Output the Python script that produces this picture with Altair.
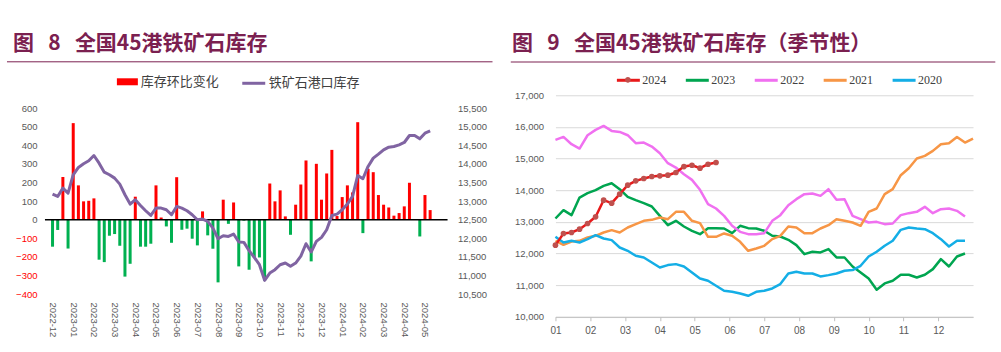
import altair as alt
import pandas as pd
import numpy as np

# ---------------- left panel data (weekly) ----------------
bar_changes = [
    -145, -55, 230, -155, 520, 185, 99, 102, 115, -215,
    -228, -86, -77, -140, -306, -237, 124, -145, -145, -129,
    185, 12, -36, -124, 229, -54, -48, -102, -138, 45,
    -84, -156, -337, 108, -22, 93, -251, -5, -269, -203,
    -203, -328, 195, 99, 158, 18, -81, 81, 190, 319,
    -224, 301, 108, 249, 376, 20, 122, 185, 147, 525,
    -72, 274, 256, 133, 81, 66, 22, 36, 72, 199,
    0, -90, 133, 52,
]
port_inventory = [
    13190, 13127, 13351, 13217, 13710, 13907, 14005, 14086, 14229, 14023,
    13781, 13710, 13620, 13459, 13172, 12921, 13038, 12885, 12742, 12616,
    12814, 12814, 12769, 12634, 12858, 12814, 12742, 12634, 12500, 12518,
    12455, 12276, 11989, 12070, 12052, 12115, 11900, 11891, 11667, 11487,
    11290, 10869, 11066, 11156, 11290, 11335, 11246, 11335, 11520, 11855,
    11631, 11918, 12025, 12231, 12616, 12652, 12769, 12921, 13127, 13692,
    13602, 13934, 14158, 14265, 14382, 14453, 14471, 14516, 14579, 14767,
    14767, 14677, 14830, 14893,
]
x_tick_labels = [
    "2022-12", "2023-01", "2023-02", "2023-03", "2023-04", "2023-05",
    "2023-06", "2023-07", "2023-08", "2023-09", "2023-10", "2023-11",
    "2023-12", "2023-12", "2024-01", "2024-02", "2024-03", "2024-04", "2024-05",
]
left_legend_bar = "库存环比变化"
left_legend_line = "铁矿石港口库存"
left_title_text = "图\u00a0\u00a0\u00a08\u00a0\u00a0\u00a0全国45港铁矿石库存"

# ---------------- right panel data (seasonal, weekly) ----------------
month_labels = ["01", "02", "03", "04", "05", "06", "07", "08", "09", "10", "11", "12"]
years = ["2024", "2023", "2022", "2021", "2020"]
inv_2024 = [12263, 12632, 12663, 12768, 12947, 13158, 13684, 13589, 13874, 14158,
            14295, 14368, 14432, 14453, 14474, 14558, 14747, 14789, 14695, 14821, 14874]
inv_2023 = [13105, 13368, 13211, 13768, 13905, 14000, 14137, 14221, 14032, 13789,
            13684, 13589, 13484, 13189, 12895, 13032, 12853, 12716, 12610, 12800,
            12800, 12789, 12642, 12874, 12800, 12789, 12716, 12558, 12537, 12432,
            12263, 11979, 12053, 12032, 12137, 11874, 11874, 11589, 11400, 11210,
            10853, 11053, 11137, 11326, 11326, 11242, 11326, 11505, 11821, 11589,
            11905, 12000]
inv_2022 = [15589, 15684, 15453, 15316, 15737, 15905, 16032, 15874, 15842, 15737,
            15484, 15505, 15379, 15168, 14853, 14716, 14505, 14326, 14011, 13558,
            13421, 13189, 12874, 12684, 12610, 12610, 12642, 13032, 13211, 13526,
            13716, 13874, 13895, 13821, 14032, 13695, 13716, 13189, 13084, 12979,
            13000, 12926, 12947, 13211, 13274, 13316, 13474, 13274, 13400, 13421,
            13347, 13168]
inv_2021 = [12400, 12274, 12379, 12400, 12505, 12558, 12663, 12737, 12663, 12821,
            12926, 13032, 13063, 13137, 13084, 13316, 13316, 13032, 12958, 12526,
            12526, 12632, 12558, 12368, 12084, 12158, 12242, 12453, 12558, 12853,
            12821, 12642, 12642, 12789, 12895, 13084, 13032, 12979, 12874, 13316,
            13421, 13874, 14032, 14474, 14695, 15000, 15084, 15242, 15453, 15484,
            15684, 15505, 15632]
inv_2020 = [12526, 12347, 12400, 12347, 12453, 12579, 12474, 12421, 12189, 12084,
            11926, 11874, 11716, 11558, 11632, 11663, 11589, 11400, 11210, 11137,
            10979, 10821, 10789, 10737, 10663, 10789, 10821, 10895, 11032, 11368,
            11421, 11368, 11368, 11274, 11316, 11368, 11453, 11474, 11610, 11905,
            12053, 12242, 12400, 12747, 12821, 12789, 12768, 12642, 12453, 12221,
            12400, 12400]
right_title_text = "图\u00a0\u00a0\u00a09\u00a0\u00a0\u00a0全国45港铁矿石库存（季节性）"

# ---------------- styles ----------------
MAROON = "#7B2050"
CJK = "Noto Sans CJK SC"
NUM = "Liberation Sans"
GRAY = "#595959"
year_colors = ["#E8191A", "#00A550", "#F070F0", "#F79646", "#14AEE6"]
TITLE_FS = 21

# ---------------- left panel ----------------
n = len(bar_changes)
left_df = pd.DataFrame({"i": np.arange(n), "chg": bar_changes, "inv": port_inventory})
left_df["sign"] = np.where(left_df["chg"] >= 0, left_legend_bar, "减少")
left_df["series"] = left_legend_line

# plot area: 403 wide; 186 px per 1000 units on the left axis; top extended to align with right panel
LW, LH = 403, 199
bar_top = 600 + 13 / 0.186
x_left_scale = alt.Scale(domain=[-0.5, 75.4], nice=False, zero=False)
lab_arr = "[" + ",".join(f"'{s}'" for s in x_tick_labels) + "]"
x_left_axis = alt.Axis(
    values=list(range(0, 4 * len(x_tick_labels), 4)),
    labelExpr=f"{lab_arr}[round(datum.value/4)]",
    labelAngle=90, domain=False, ticks=False, grid=False,
    labelFont=NUM, labelFontSize=9.5, labelColor=GRAY, labelPadding=8,
    labelOverlap=False, labelFlush=False, title=None,
)
x_left = alt.X("i:Q", scale=x_left_scale, axis=x_left_axis)

bar_y_scale = alt.Scale(domain=[-400, bar_top], nice=False, zero=False)
bar_y_axis = alt.Axis(values=list(range(-400, 601, 100)), format=".0f", domain=False, ticks=False,
                      grid=False, labelFont=NUM, labelFontSize=9.5, labelOverlap=False,
                      labelColor={"expr": "datum.value < 0 ? '#FF0000' : '#595959'"},
                      labelPadding=8, title=None)

bars = alt.Chart(left_df).mark_bar(size=3).encode(
    x=x_left,
    y=alt.Y("chg:Q", scale=bar_y_scale, axis=bar_y_axis),
    color=alt.Color("sign:N",
                    scale=alt.Scale(domain=[left_legend_bar, "减少"], range=["#FF0000", "#00B050"]),
                    legend=alt.Legend(values=[left_legend_bar], orient="none", legendX=71, legendY=-25,
                                      direction="horizontal", title=None,
                                      symbolType="M-1,-0.333L1,-0.333L1,0.333L-1,0.333Z",
                                      symbolSize=441, labelFont=CJK, labelFontSize=13,
                                      labelColor="#404040", labelOffset=2)),
)
zero_rule = alt.Chart(pd.DataFrame({"z": [0]})).mark_rule(color="#000000", strokeWidth=1.5).encode(
    y=alt.Y("z:Q", scale=bar_y_scale, axis=bar_y_axis)
)
inv_line = alt.Chart(left_df).mark_line(strokeWidth=3, strokeJoin="round").encode(
    x=x_left,
    y=alt.Y("inv:Q", scale=alt.Scale(domain=[10500, 12500 + 5 * bar_top], nice=False, zero=False),
            axis=alt.Axis(orient="right", values=list(range(10500, 15501, 500)), format=",.0f",
                          domain=False, ticks=False, grid=False, labelFont=NUM, labelOverlap=False,
                          labelFontSize=9.5, labelColor=GRAY, labelPadding=10, title=None)),
    stroke=alt.Stroke("series:N", scale=alt.Scale(domain=[left_legend_line], range=["#8064A2"]),
                      legend=alt.Legend(orient="none", legendX=196, legendY=-25,
                                        direction="horizontal", title=None, symbolType="stroke",
                                        symbolSize=529, symbolStrokeWidth=3, labelFont=CJK,
                                        labelFontSize=13, labelColor="#404040", labelOffset=2)),
)
left_title = alt.Chart(pd.DataFrame({"t": [left_title_text]})).mark_text(
    align="left", baseline="middle", font=CJK, fontSize=TITLE_FS, fontWeight="bold", color=MAROON
).encode(text="t:N", x=alt.value(-32), y=alt.value(-51.3))
left_uline = alt.Chart(pd.DataFrame({"t": [0]})).mark_rule(color=MAROON, strokeWidth=1).encode(
    x=alt.value(-38), x2=alt.value(448), y=alt.value(-33.5)
)

left = alt.layer(
    alt.layer(bars, zero_rule), inv_line, left_title, left_uline
).resolve_scale(y="independent").properties(width=LW, height=LH)

# ---------------- right panel ----------------
rows = []
for yr, vals in zip(years, [inv_2024, inv_2023, inv_2022, inv_2021, inv_2020]):
    for w, v in enumerate(vals):
        rows.append({"yr": yr, "w": w, "v": v})
right_df = pd.DataFrame(rows)

RW, RH = 418, 221.7
m_arr = "[" + ",".join(f"'{m}'" for m in month_labels) + "]"
x_right = alt.X("w:Q", scale=alt.Scale(domain=[0, 52], nice=False, zero=False),
                axis=alt.Axis(values=[i * 52 / 12 for i in range(12)],
                              labelExpr=f"{m_arr}[round(datum.value*12/52)]",
                              domainColor="#BFBFBF", tickColor="#BFBFBF", tickSize=4,
                              grid=False, labelFont=NUM, labelFontSize=10, labelColor=GRAY,
                              labelPadding=5, labelFlush=False, labelOverlap=False, title=None))
y_right = alt.Y("v:Q", scale=alt.Scale(domain=[10000, 17000], nice=False, zero=False),
                axis=alt.Axis(values=list(range(10000, 17001, 1000)), format=",.0f", domain=False,
                              ticks=False, gridColor="#D9D9D9", gridWidth=1, labelFont=NUM,
                              labelOverlap=False, labelFontSize=9.5, labelColor=GRAY,
                              labelPadding=12, title=None))
legend_common = dict(orient="none", legendX=60, legendY=-28, direction="horizontal", title=None,
                     symbolSize=529, labelFont="Liberation Serif", labelFontSize=12,
                     labelOffset=1, columnPadding=13)
color_enc = alt.Color("yr:N", scale=alt.Scale(domain=years, range=year_colors),
                      legend=alt.Legend(symbolType="stroke", symbolStrokeWidth=3,
                                        labelColor="#404040", **legend_common))

other_lines = alt.Chart(right_df).transform_filter("datum.yr != '2024'").mark_line(
    strokeWidth=2.5, strokeJoin="round").encode(x=x_right, y=y_right, color=color_enc)
line_2024 = alt.Chart(right_df).transform_filter("datum.yr == '2024'").mark_line(
    strokeWidth=2.5, strokeJoin="round").encode(x=x_right, y=y_right, color=color_enc)
pts_2024 = alt.Chart(right_df).transform_filter("datum.yr == '2024'").mark_point(
    filled=True, size=32, opacity=1).encode(
    x=x_right, y=y_right,
    fill=alt.Fill("yr:N", scale=alt.Scale(domain=["2024"], range=["#C0504D"]),
                  legend=alt.Legend(symbolType="M-0.25,0A0.25,0.25 0 1,1 0.25,0A0.25,0.25 0 1,1 -0.25,0Z",
                                    labelOpacity=0, labelColor="#404040", **legend_common)),
)
right_title = alt.Chart(pd.DataFrame({"t": [right_title_text]})).mark_text(
    align="left", baseline="middle", font=CJK, fontSize=TITLE_FS, fontWeight="bold", color=MAROON
).encode(text="t:N", x=alt.value(-43.4), y=alt.value(-51.3))
right_uline = alt.Chart(pd.DataFrame({"t": [0]})).mark_rule(color=MAROON, strokeWidth=1).encode(
    x=alt.value(-44.7), x2=alt.value(440.3), y=alt.value(-33.3)
)

right = alt.layer(other_lines, line_2024, pts_2024, right_title, right_uline).properties(
    width=RW, height=RH)

chart = alt.hconcat(left, right, spacing=16).resolve_scale(
    color="independent", fill="independent", stroke="independent"
).resolve_legend(
    color="independent", fill="independent", stroke="independent"
).properties(
    padding={"left": 6, "top": 32.2, "right": 5, "bottom": 5},
    background="white",
).configure_view(stroke=None)

chart.save("out.html", embed_options={"renderer": "svg", "actions": False})
